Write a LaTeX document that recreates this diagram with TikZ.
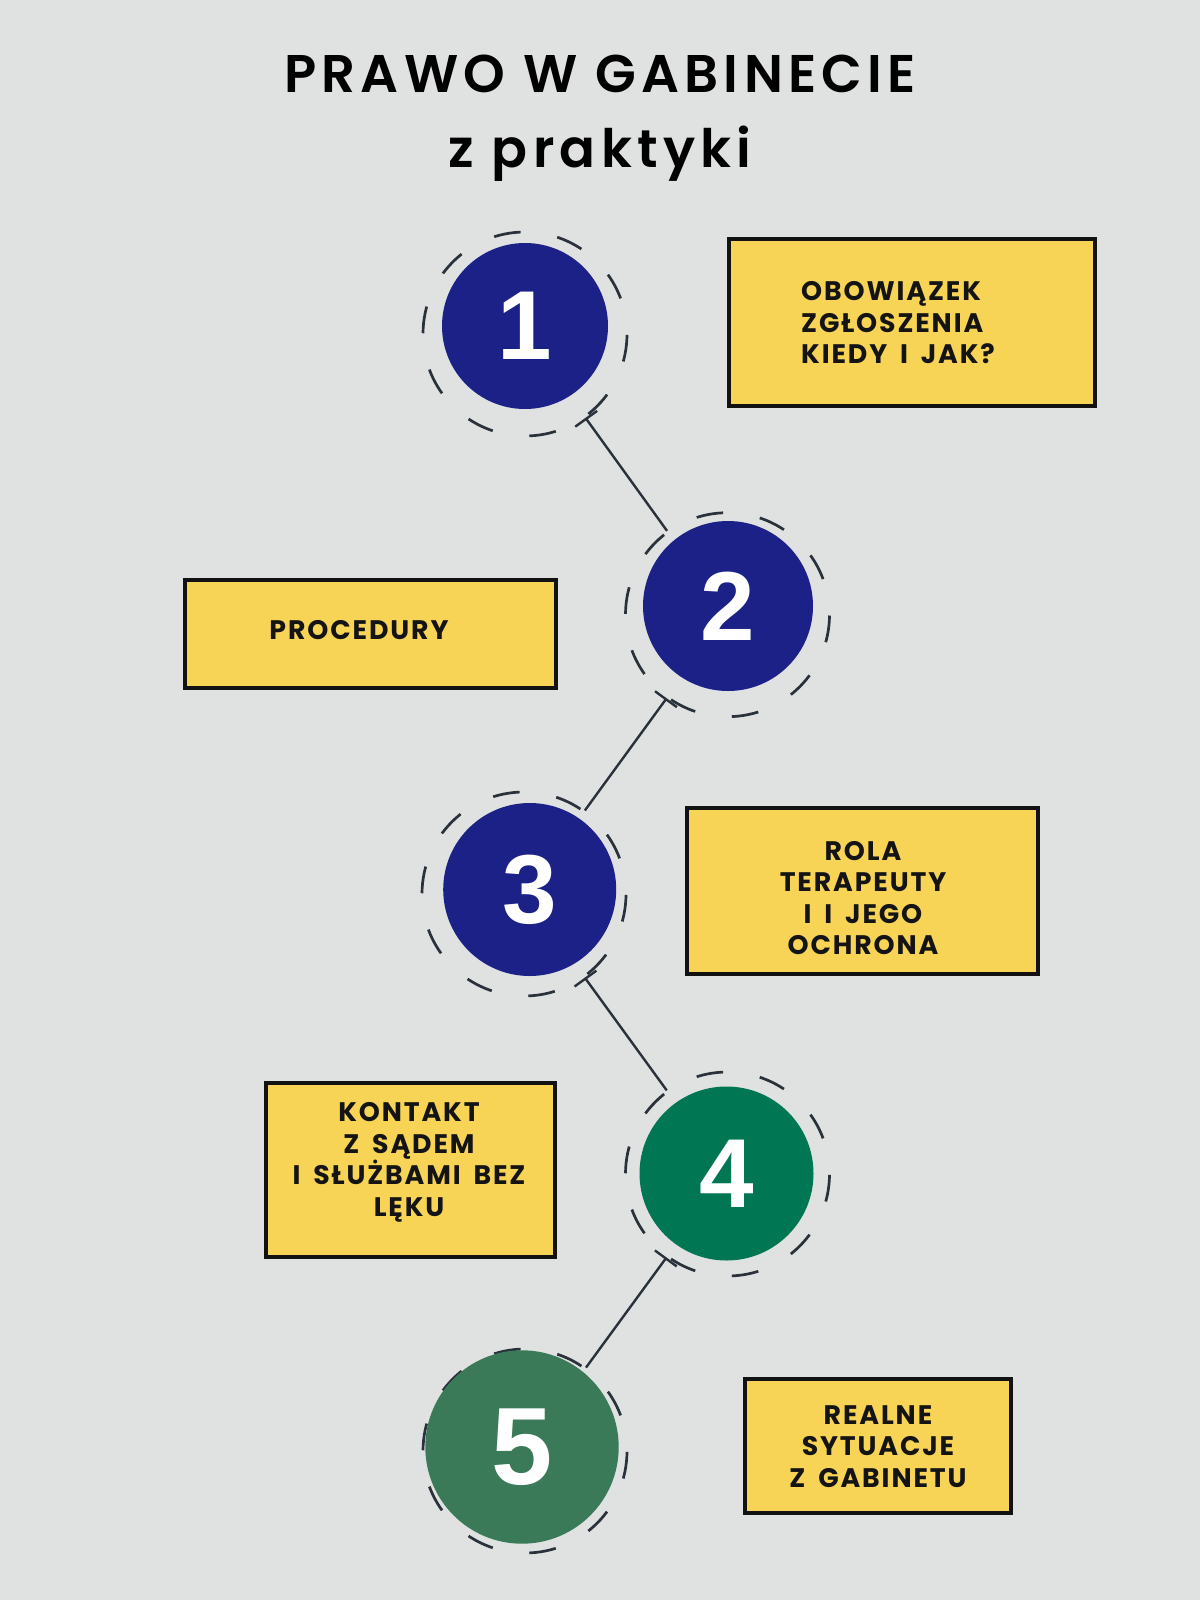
\documentclass[tikz,border=0pt]{standalone}
\usepackage{fontspec}
\usepackage{xcolor}
\usepackage{tikz}
\usetikzlibrary{arrows.meta}

\newfontfamily\titlefont{Poppins SemiBold}[LetterSpace=10]
\newfontfamily\boxfont{Poppins}[LetterSpace=7,WordSpace=1.7]
\newfontfamily\numfont{Liberation Sans}

\definecolor{bgcol}{HTML}{E0E2E1}
\definecolor{boxcol}{HTML}{F8D456}
\definecolor{ringcol}{HTML}{29313B}
\definecolor{bluecol}{HTML}{1C2188}
\definecolor{greencol}{HTML}{007652}
\definecolor{sagecol}{HTML}{3A7A58}

\begin{document}
\begin{tikzpicture}[x=0.5pt,y=-0.5pt]
% 1 px = 0.5pt, y grows downwards
    \def\RINGSIZE{102pt} %diameter of dashed rings
    \def\DIGIT{49pt}
    \def\LINESKIP{15.75pt}

    \tikzset{
      ring/.style={circle, draw=ringcol, line width=1.35pt,
        minimum size=\RINGSIZE, inner sep=0pt,
        dash pattern=on 13.5pt off 18.54pt, dash phase=13.85pt},
      dot/.style={circle, inner sep=0pt, text=white,
        font=\numfont\bfseries\fontsize{\DIGIT}{\DIGIT}\selectfont},
      box/.style={rectangle, draw=black!93, fill=boxcol,
        line width=1.8pt, inner sep=0pt},
      boxtext/.style={align=center, text=black!92,
        font=\boxfont\bfseries\fontsize{13.4pt}{\LINESKIP}\selectfont},
      title/.style={anchor=base,
        font=\titlefont\fontsize{26.5pt}{30pt}\selectfont},
      link/.style={{Bar[width=13.5pt]}-, draw=ringcol, line width=1.2pt},
    }

    % BACKGROUND
    \fill[bgcol] (0,0) rectangle (1200,1600);
    \useasboundingbox (0,0) rectangle (1200,1600);

    % TITLE
    \node[title] (title) at (600,93) {PRAWO W GABINECIE};
    \node[title] (subtitle) at (600,167.7) {z praktyki};

    % DASHED RINGS
    \node[ring] (r1) at (525,334) {};
    \node[ring] (r2) at (727.5,614.7) {};
    \node[ring] (r3) at (524,894) {};
    \node[ring] (r4) at (727.5,1174) {};
    \node[ring] (r5) at (525,1451) {};

    % CONNECTORS
    \draw[link] (r1) -- (r2);
    \draw[link] (r2) -- (r3);
    \draw[link] (r3) -- (r4);
    \draw[link] (r4) -- (r5);

    % NUMBERED CIRCLES
    \node[dot, fill=bluecol, minimum size=83pt] (c1) at (525,326) {1};
    \node[dot, fill=bluecol, minimum size=85pt] (c2) at (728,606) {2};
    \node[dot, fill=bluecol, minimum size=86.5pt] (c3) at (529.7,889.5) {3};
    \node[dot, fill=greencol, minimum size=87pt] (c4) at (726.5,1173.5) {4};
    \node[dot, fill=sagecol, minimum size=96.7pt,
        font=\numfont\bfseries\fontsize{55pt}{55pt}\selectfont] (c5) at (522,1447) {5};

    % YELLOW BOXES
    \node[box, minimum width=183.2pt, minimum height=83.7pt] (b1) at (912,322.5) {};
    \node[box, minimum width=185.7pt, minimum height=54.2pt] (b2) at (370.5,634) {};
    \node[box, minimum width=175.7pt, minimum height=83.2pt] (b3) at (862.5,891) {};
    \node[box, minimum width=144.7pt, minimum height=87.2pt] (b4) at (410.5,1170) {};
    \node[box, minimum width=133.2pt, minimum height=67.2pt] (b5) at (878,1446) {};

    % BOX TEXTS
    \node[boxtext, align=left] (t1) at (898,323) {OBOWIĄZEK\\ZGŁOSZENIA\\KIEDY I JAK?};
    \node[boxtext] (t2) at (359,630) {PROCEDURY};
    \node[boxtext] (t3) at (863,898) {ROLA\\TERAPEUTY\\I I JEGO\\OCHRONA};
    \node[boxtext] (t4) at (409,1162.5) {KONTAKT\\Z SĄDEM\\I SŁUŻBAMI BEZ\\LĘKU};
    \node[boxtext] (t5) at (878,1446.5) {REALNE\\SYTUACJE\\Z GABINETU};

\end{tikzpicture}
\end{document}
